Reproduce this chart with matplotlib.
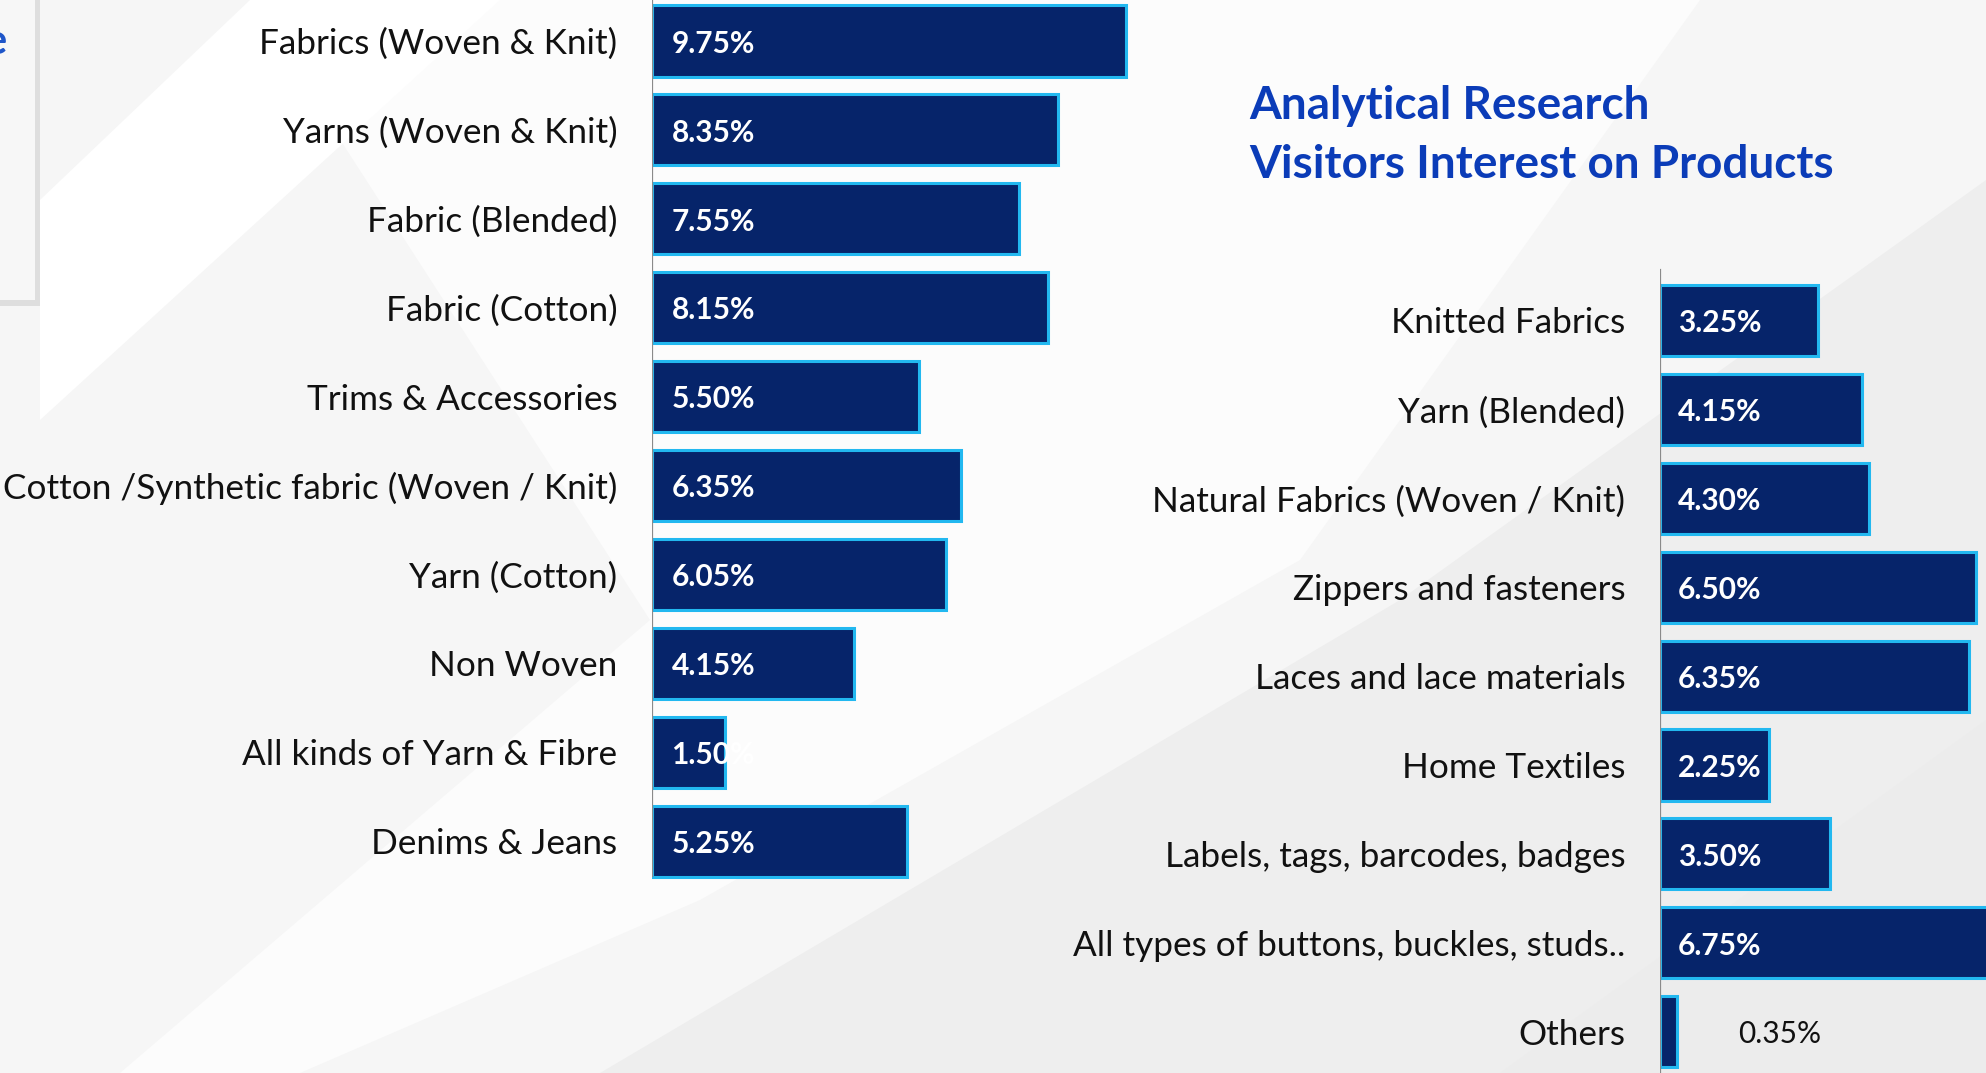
import matplotlib.pyplot as plt
from matplotlib.patches import Rectangle, Polygon

# data
left_labels = ['Fabrics (Woven & Knit)', 'Yarns (Woven & Knit)', 'Fabric (Blended)',
               'Fabric (Cotton)', 'Trims & Accessories',
               'Cotton /Synthetic fabric (Woven / Knit)', 'Yarn (Cotton)', 'Non Woven',
               'All kinds of Yarn & Fibre', 'Denims & Jeans']
left_values = [9.75, 8.35, 7.55, 8.15, 5.50, 6.35, 6.05, 4.15, 1.50, 5.25]

right_labels = ['Knitted Fabrics', 'Yarn (Blended)', 'Natural Fabrics (Woven / Knit)',
                'Zippers and fasteners', 'Laces and lace materials', 'Home Textiles',
                'Labels, tags, barcodes, badges', 'All types of buttons, buckles, studs..',
                'Others']
right_values = [3.25, 4.15, 4.30, 6.50, 6.35, 2.25, 3.50, 6.75, 0.35]

title_lines = ['Analytical Research', 'Visitors Interest on Products']

W, H = 1986, 1073
NAVY = '#06246a'
EDGE = '#22b8f0'
plt.rcParams['font.family'] = ['Lato', 'DejaVu Sans']

fig = plt.figure(figsize=(W / 100, H / 100), dpi=100)
fig.patch.set_facecolor('#eeeeee')

# background shapes
bg = fig.add_axes([0, 0, 1, 1], zorder=-10)
bg.set_xlim(0, W)
bg.set_ylim(H, 0)
bg.axis('off')
bg.add_patch(Polygon([(0, 0), (W, 0), (W, 180), (1400, 600), (600, 1073), (0, 1073)],
                     closed=True, fc='#f6f6f6', ec='none'))
bg.add_patch(Polygon([(250, 0), (1700, 0), (1300, 560), (700, 900), (300, 1073), (120, 1073), (650, 620)],
                     closed=True, fc='#fcfcfc', ec='none'))
bg.add_patch(Polygon([(40, 420), (500, 0), (250, 0), (40, 200)],
                     closed=True, fc='#ffffff', ec='none'))
bg.add_patch(Polygon([(1500, 1073), (1986, 720), (1986, 1073)],
                     closed=True, fc='#ececec', ec='none'))
# cut-off panel at top left
bg.add_patch(Rectangle((0, 0), 40, 306, fc='#cfcfcf', ec='none', alpha=0.6))
bg.add_patch(Rectangle((0, 0), 35, 300, fc='#f7f7f7', ec='none'))
bg.text(7, 42, 'e', ha='right', va='center', color='#1f56c9', fontsize=30, fontweight='bold')

px = 48.6  # pixels per percent


def make_axes(x0, y0_center, count, vals, labels, x_right):
    ax = fig.add_axes([x0 / W, 0, (x_right - x0) / W, 1])
    ax.patch.set_alpha(0)
    pitch = 88.9
    ax.set_xlim(0, (x_right - x0) / px)
    ax.set_ylim((H - y0_center) / pitch, -y0_center / pitch)
    ys = list(range(count))
    ax.barh(ys, vals, height=0.8, color=NAVY, edgecolor=EDGE, linewidth=2.2, zorder=3)
    ax.set_yticks(ys)
    ax.set_yticklabels(labels, fontsize=25.3, color='#111111')
    ax.tick_params(axis='y', length=0, pad=25)
    ax.set_xticks([])
    for s in ax.spines.values():
        s.set_visible(False)
    return ax, ys


axl, yl = make_axes(652, 41, len(left_values), left_values, left_labels, 1300)
axl.axvline(0, ymin=1 - 876 / H, ymax=1, color='#8a8a8a', lw=1.6, zorder=4)
for y, v in zip(yl, left_values):
    axl.annotate(f'{v:.2f}%', (0, y), xytext=(14, -2), textcoords='offset points',
                 ha='left', va='center', color='white', fontsize=21.5, fontweight='bold', zorder=5)

axr, yr = make_axes(1660, 320.5, len(right_values), right_values, right_labels, W)
axr.axvline(0, ymin=0, ymax=1 - 270 / H, color='#8a8a8a', lw=1.6, zorder=4)
for y, v in zip(yr, right_values):
    if v < 1:
        axr.annotate(f'{v:.2f}%', (v, y), xytext=(44, -2), textcoords='offset points',
                     ha='left', va='center', color='#111111', fontsize=21.5, zorder=5)
    else:
        axr.annotate(f'{v:.2f}%', (0, y), xytext=(13, -2), textcoords='offset points',
                     ha='left', va='center', color='white', fontsize=21.5, fontweight='bold', zorder=5)

for line, yc in zip(title_lines, [106, 165]):
    fig.text(1249 / W, 1 - yc / H, line, ha='left', va='center', color='#0b3cb8',
             fontsize=33, fontweight='bold')

fig.savefig('out.png', dpi=100, facecolor=fig.get_facecolor())
